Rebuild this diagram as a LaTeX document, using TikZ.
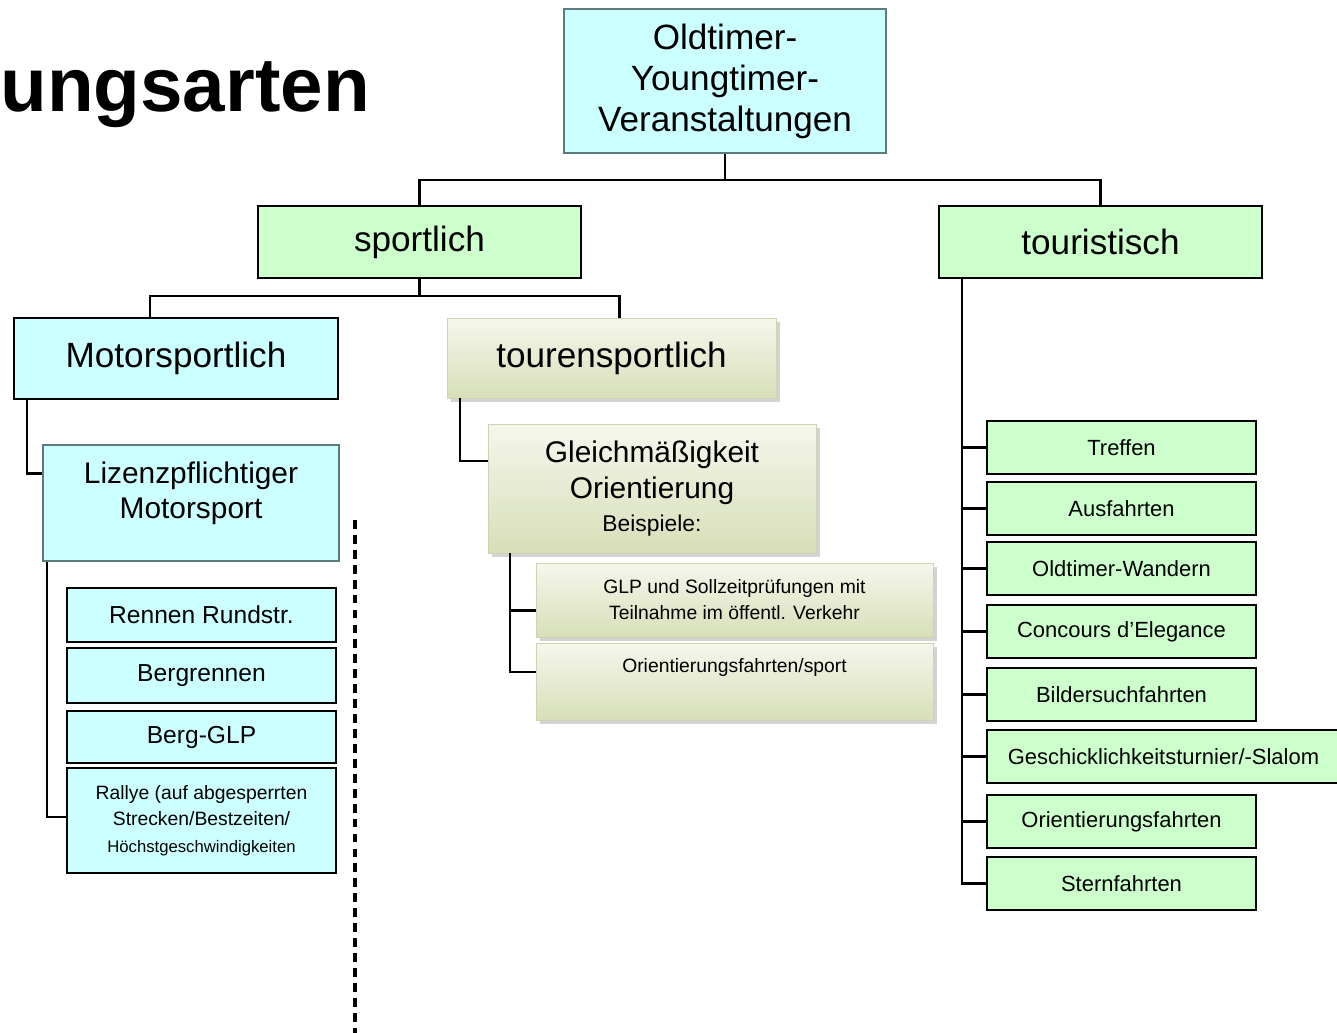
\documentclass[tikz,border=0pt]{standalone}
\usepackage{fontspec}
\setmainfont{Liberation Sans}
\usetikzlibrary{calc,shadows}

\definecolor{boxcyan}{HTML}{CCFFFF}
\definecolor{boxgreen}{HTML}{CCFFCC}
\definecolor{rootline}{HTML}{5E7B7B}
\definecolor{tourtop}{HTML}{F5F7EC}
\definecolor{tourbot}{HTML}{D7DFB8}
\definecolor{tourline}{HTML}{CDD4B2}

\newcommand{\fntbig}{\fontsize{20}{23.3}\selectfont}
\newcommand{\fntmid}{\fontsize{17}{20.4}\selectfont}
\newcommand{\fntbox}{\fontsize{14}{16}\selectfont}
\newcommand{\fntlist}{\fontsize{12.5}{15}\selectfont}
\newcommand{\fnttiny}{\fontsize{11}{15}\selectfont}

\tikzset{
	cyanbox/.style={draw=black, line width=1.2pt, fill=boxcyan, inner sep=0pt, align=center},
	greenbox/.style={draw=black, line width=1.2pt, fill=boxgreen, inner sep=0pt, align=center},
	tourbox/.style={draw=tourline, line width=0.4pt, top color=tourtop, bottom color=tourbot,
		drop shadow={shadow xshift=2.5pt, shadow yshift=-2.5pt, opacity=0.35}, inner sep=0pt, align=center},
	leftbox/.style={cyanbox, minimum width=5.38cm, font=\fntbox},
	rightbox/.style={greenbox, minimum width=5.38cm, minimum height=1.06cm, font=\fntlist},
	conn/.style={line width=1.3pt, black},
}

\begin{document}
\begin{tikzpicture}[x=0.02cm, y=-0.02cm]
	\useasboundingbox (0,0) rectangle (1337,1033);

	% heading
	\node [anchor=base west, inner sep=0pt, font=\fontsize{43.5}{50}\selectfont\bfseries] (title) at (0,112) {ungsarten};

	% top levels
	\node [cyanbox, draw=rootline, minimum width=6.44cm, minimum height=2.88cm, font=\fntbig] (root) at (725,81) {Oldtimer-\\Youngtimer-\\Veranstaltungen};
	\node [greenbox, minimum width=6.46cm, minimum height=1.44cm, font=\fntbig] (sport) at (419.5,242) {sportlich};
	\node [greenbox, minimum width=6.46cm, minimum height=1.44cm, font=\fntbig] (tour) at (1100.5,242) {touristisch};
	\draw [conn] (root.south) -- ++(0,26) -| (sport.north);
	\draw [conn] (root.south) ++(0,26) -| (tour.north);

	% sportlich
	\node [cyanbox, minimum width=6.48cm, minimum height=1.62cm, font=\fntbig] (mot) at (176,358.5) {Motorsportlich};
	\node [tourbox, minimum width=6.58cm, minimum height=1.60cm, font=\fntbig] (tsp) at (611.5,358) {tourensportlich};
	\draw [conn] (sport.south) -- ++(0,17) -| ($(mot.north)+(-26,0)$);
	\draw [conn] (sport.south) ++(0,17) -| ($(tsp.north)+(8,0)$);

	% motorsportlich
	\node [cyanbox, draw=rootline, minimum width=5.92cm, minimum height=2.32cm,
		label={[font=\fntmid, align=center, yshift=5.5pt]center:Lizenzpflichtiger\\Motorsport}] (liz) at (191,503) {};
	\draw [conn] ($(mot.south west)+(14,0)$) |- ($(liz.north west)!0.25!(liz.south west)$);
	\node [leftbox, minimum height=1.08cm] (rennen) at (201.5,615) {Rennen Rundstr.};
	\node [leftbox, minimum height=1.10cm] (berg) at (201.5,675.5) {Bergrennen};
	\node [leftbox, minimum height=1.04cm] (bglp) at (201.5,737) {Berg-GLP};
	\node [leftbox, minimum height=2.10cm, font=\fnttiny] (rallye) at (201.5,820.5) {Rallye (auf abgesperrten\\Strecken/Bestzeiten/\\{\fontsize{9.5}{15}\selectfont Höchstgeschwindigkeiten}};
	\draw [conn] ($(liz.south west)+(5,0)$) |- ($(rallye.north west)!0.47!(rallye.south west)$);
	\draw [line width=1.8pt, dash pattern=on 5pt off 3.5pt] (355,520) -- (355,1033);

	% tourensportlich
	\node [tourbox, minimum width=6.56cm, minimum height=2.58cm, font=\fntmid] (gleich) at (652,488.5) {Gleichmäßigkeit\\Orientierung\\[-2pt]{\fontsize{13}{15}\selectfont Beispiele:}};
	\draw [conn] ($(tsp.south west)+(13,0)$) |- ($(gleich.north west)!0.29!(gleich.south west)$);
	\node [tourbox, minimum width=7.94cm, minimum height=1.48cm, font=\fontsize{11}{14.7}\selectfont] (glp) at (734.5,600) {GLP und Sollzeitprüfungen mit\\Teilnahme im öffentl. Verkehr};
	\node [tourbox, minimum width=7.94cm, minimum height=1.54cm,
		label={[font=\fnttiny, yshift=7.9pt]center:Orientierungsfahrten/sport}] (osp) at (734.5,681.5) {};
	\draw [conn] ($(gleich.south west)+(22,0)$) |- ($(glp.north west)!0.64!(glp.south west)$);
	\draw [conn] ($(gleich.south west)+(22,0)$) |- ($(osp.north west)!0.38!(osp.south west)$);

	% touristisch
	\node [rightbox] (treffen) at (1121.5,447.5) {Treffen};
	\node [rightbox] (ausf) at (1121.5,508.5) {Ausfahrten};
	\node [rightbox] (wandern) at (1121.5,568.5) {Oldtimer-Wandern};
	\node [rightbox] (concours) at (1121.5,631.5) {Concours d'Elegance};
	\node [rightbox] (bilder) at (1121.5,694.5) {Bildersuchfahrten};
	\node [rightbox, minimum width=7.06cm] (geschick) at (1163.5,756.5) {Geschicklichkeitsturnier/-Slalom};
	\node [rightbox] (orient) at (1121.5,821.5) {Orientierungsfahrten};
	\node [rightbox] (stern) at (1121.5,883.5) {Sternfahrten};
	\draw [conn] ($(tour.south west)+(24,0)$) |- (treffen.west);
	\draw [conn] ($(tour.south west)+(24,0)$) |- (ausf.west);
	\draw [conn] ($(tour.south west)+(24,0)$) |- (wandern.west);
	\draw [conn] ($(tour.south west)+(24,0)$) |- (concours.west);
	\draw [conn] ($(tour.south west)+(24,0)$) |- (bilder.west);
	\draw [conn] ($(tour.south west)+(24,0)$) |- (geschick.west);
	\draw [conn] ($(tour.south west)+(24,0)$) |- (orient.west);
	\draw [conn] ($(tour.south west)+(24,0)$) |- (stern.west);
\end{tikzpicture}
\end{document}
